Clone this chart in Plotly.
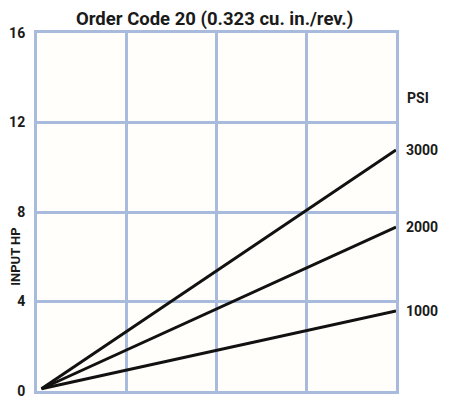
import plotly.graph_objects as go

# Data
psi_levels = ["1000", "2000", "3000"]
x_start = [0.05, 0.05, 0.05]
x_end = [4.0, 4.0, 4.0]
hp_start = [0.1, 0.1, 0.1]
hp_end = [3.58, 7.33, 10.77]
y_ticks = [0, 4, 8, 12, 16]
title_text = "Order Code 20 (0.323 cu. in./rev.)"

FONT = "Roboto, Liberation Sans, sans-serif"
GRID = "#a9bbdc"
TXT = "#1a1a1a"

# The page body adds an 8px margin, so the figure is 8px smaller on each axis
W, H = 441, 395

fig = go.Figure()
for name, xs, xe, ys, ye in zip(psi_levels, x_start, x_end, hp_start, hp_end):
    fig.add_trace(go.Scatter(x=[xs, xe], y=[ys, ye], mode="lines",
                             line=dict(color="#111111", width=3), name=name,
                             showlegend=False, hoverinfo="skip"))

annotations = []
for name, ye in zip(psi_levels, hp_end):
    annotations.append(dict(x=4, y=ye, xref="x", yref="y", text=f"<b>{name}</b>",
                            showarrow=False, xanchor="left", xshift=8,
                            font=dict(family=FONT, size=14, color=TXT)))
annotations.append(dict(x=4, y=13.1, xref="x", yref="y", text="<b>PSI</b>",
                        showarrow=False, xanchor="left", xshift=9,
                        font=dict(family=FONT, size=14, color=TXT)))
annotations.append(dict(x=0, y=6.0, xref="paper", yref="y", text="<b>INPUT HP</b>",
                        showarrow=False, xanchor="center", xshift=-21, textangle=-90,
                        font=dict(family=FONT, size=13, color=TXT)))
annotations.append(dict(x=0.494, y=1, xref="paper", yref="paper", text=f"<b>{title_text}</b>",
                        showarrow=False, xanchor="center", yanchor="bottom", yshift=1,
                        font=dict(family=FONT, size=18.5, color=TXT)))

fig.update_layout(
    width=W, height=H,
    margin=dict(l=29, r=53, t=25, b=12),
    paper_bgcolor="white",
    plot_bgcolor="#fffefa",
    annotations=annotations,
    xaxis=dict(range=[0, 4], dtick=1, showticklabels=False, showgrid=True,
               gridcolor=GRID, gridwidth=3, zeroline=False, automargin=False,
               showline=True, linecolor=GRID, linewidth=3, mirror=True),
    yaxis=dict(range=[0, 16], tickvals=y_ticks, ticktext=[f"<b>{v}</b>" for v in y_ticks],
               showgrid=True, gridcolor=GRID, gridwidth=3, zeroline=False,
               showline=True, linecolor=GRID, linewidth=3, mirror=True,
               ticks="", ticklabelstandoff=6, automargin=False,
               tickfont=dict(family=FONT, size=14, color=TXT)),
)

fig.write_html("out.html")
